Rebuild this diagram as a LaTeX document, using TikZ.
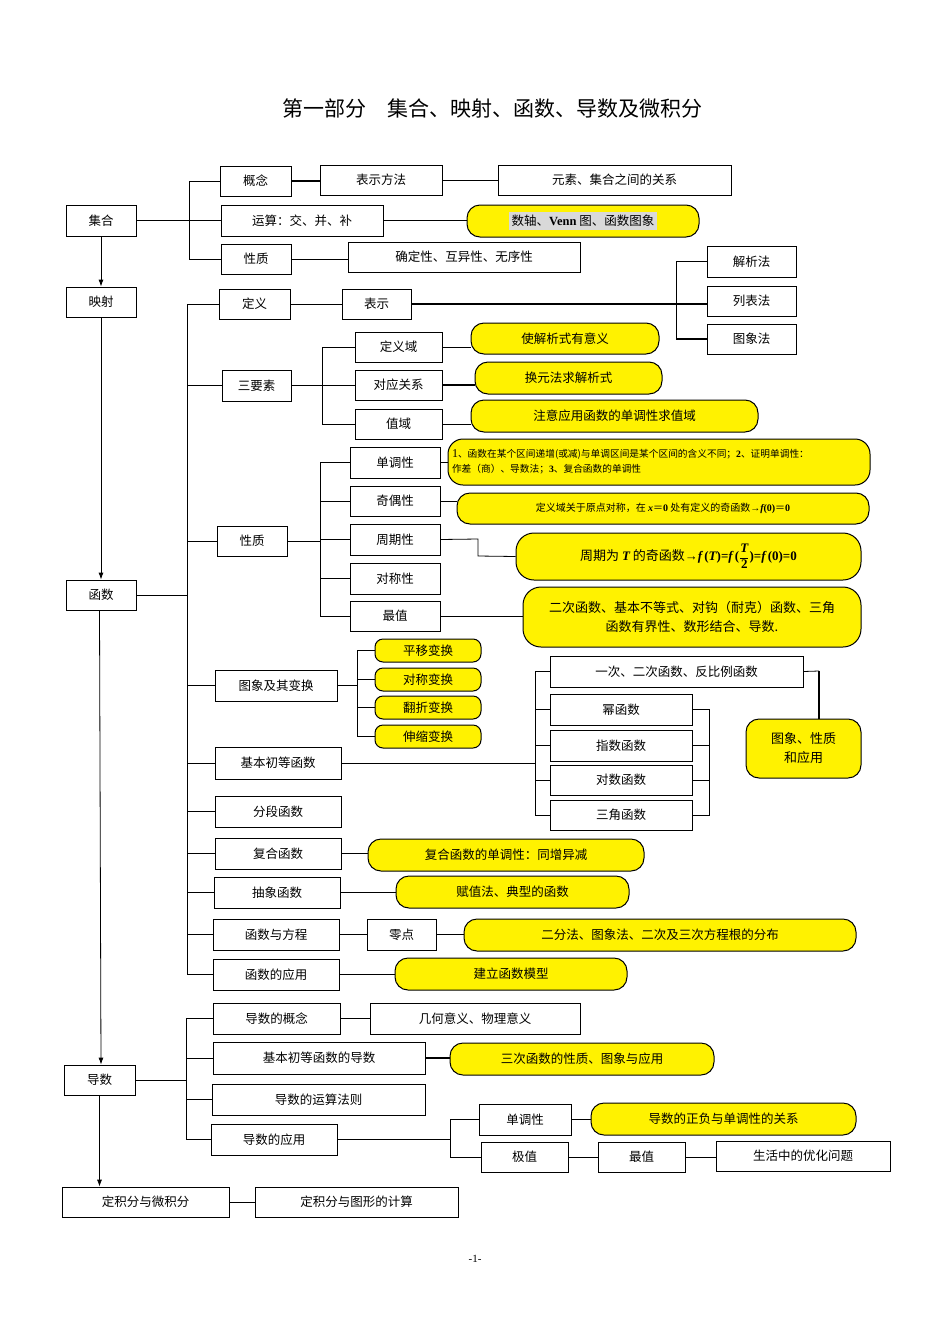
\documentclass[tikz,border=0pt]{standalone}
\usepackage{fontspec}
\setmainfont{Noto Sans CJK SC}
\newfontfamily\lsr{Liberation Serif}
\usetikzlibrary{arrows.meta,shadows}
\tikzset{
  bx/.style={draw, line width=0.8pt, fill=white, inner sep=0pt, font=\fontsize{12.5}{14}\selectfont,
     drop shadow={shadow xshift=1.2pt, shadow yshift=-1.2pt, fill=black!70, opacity=1}},
  yb/.style={draw, line width=1pt, fill=yellow, rounded corners=13pt, inner sep=0pt, font=\fontsize{12.5}{14}\selectfont},
  ys/.style={yb, rounded corners=8pt},
  ln/.style={line width=0.8pt},
  ar/.style={line width=0.8pt, -{Latex[length=7pt,width=5pt]}},
  hl/.style={to path={(\tikztostart) -- (\tikztostart -| \tikztotarget)}}
}
\newcommand{\B}[7]{\node[#1, minimum width={(#5-#3)*1pt}, minimum height={(#6-#4)*1pt}] (#2) at ({(#3+#5)/2},{(#4+#6)/2}) {#7};}
\begin{document}
\begin{tikzpicture}[x=1pt,y=-1pt]
\useasboundingbox (0,0) rectangle (950,1344);
\node[font=\fontsize{21}{24}\selectfont] (title) at (492,108) {第一部分\quad 集合、映射、函数、导数及微积分};
\node[font=\lsr\fontsize{11}{12}\selectfont] (page) at (475,1259) {-1-};
% main column
\B{bx}{jihe}{66}{205}{136}{236}{集合}
\B{bx}{yingshe}{66}{287}{136}{317}{映射}
\B{bx}{hanshu}{66}{580}{136}{610}{函数}
\B{bx}{daoshu}{64}{1065}{135}{1095}{导数}
\B{bx}{djf}{62}{1187}{229}{1217}{定积分与微积分}
\B{bx}{djf2}{255}{1187}{458}{1217}{定积分与图形的计算}
\draw[ar] (jihe) -- (yingshe);
\draw[ar] (yingshe) -- (hanshu);
\draw[ar] (hanshu.south -| daoshu) -- (daoshu.north -| hanshu);
\draw[ar] (daoshu) -- (djf.north -| daoshu);
\draw[ln] (djf) -- (djf2);
% set branch
\B{bx}{gn}{220}{166}{291}{196}{概念}
\B{bx}{bsff}{320}{165}{442}{195}{表示方法}
\B{bx}{ys}{498}{165}{731}{195}{元素、集合之间的关系}
\B{bx}{ys2}{221}{205}{383}{236}{运算：交、并、补}
\B{yb}{venn}{467}{205}{699}{237}{\colorbox{black!15}{数轴、{\lsr\bfseries Venn} 图、函数图象}}
\B{bx}{xz}{221}{244}{291}{274}{性质}
\B{bx}{qd}{348}{242}{580}{272}{确定性、互异性、无序性}
\coordinate (t1) at (189,220);
\draw[ln] (jihe.east) to[hl] (t1);
\draw[ln] (gn.west) -- (gn.west -| t1) -- (xz.west -| t1) -- (xz.west);
\draw[ln] (ys2.west) to[hl] (t1);
\draw[line width=2pt] (gn.east) to[hl] (bsff.west);
\draw[ln] (bsff.east) to[hl] (ys.west);
\draw[ln] (ys2.east) to[hl] (venn.west);
\draw[ln] (xz.east) to[hl] (qd.west);
% function branch
\coordinate (t2) at (187,595);
\B{bx}{dy}{219}{289}{290}{319}{定义}
\B{bx}{bs}{342}{289}{411}{319}{表示}
\B{bx}{jx}{707}{246}{796}{277}{解析法}
\B{bx}{lb}{707}{286}{796}{316}{列表法}
\B{bx}{tx}{707}{324}{796}{354}{图象法}
\draw[ln] (dy.east) to[hl] (bs.west);
\draw[line width=1.4pt] (bs.east) to[hl] (lb.west);
\draw[line width=1.4pt] (jx.west) -- ++(-30,0) |- (tx.west);
\B{bx}{sys}{222}{370}{291}{401}{三要素}
\B{bx}{dyy}{355}{332}{442}{362}{定义域}
\B{bx}{dygx}{355}{370}{442}{400}{对应关系}
\B{bx}{zy}{355}{409}{442}{439}{值域}
\B{yb}{y1}{471}{323}{659}{354}{使解析式有意义}
\B{yb}{y2}{475}{362}{662}{394}{换元法求解析式}
\B{yb}{y3}{471}{400}{758}{432}{注意应用函数的单调性求值域}
\draw[ln] (sys.east) to[hl] (dygx.west);
\draw[ln] (dyy.west) -- ++(-32,0) |- (zy.west);
\draw[ln] (dyy.east) to[hl] (y1.west);
\draw[line width=1.4pt] (dygx.east) to[hl] (y2.west);
\draw[ln] (zy.east) to[hl] (y3.west);
\B{bx}{xz2}{217}{526}{287}{556}{性质}
\B{bx}{dd}{350}{447}{440}{478}{单调性}
\B{bx}{jo}{350}{486}{440}{516}{奇偶性}
\B{bx}{zq}{350}{524}{440}{555}{周期性}
\B{bx}{dc}{350}{563}{440}{594}{对称性}
\B{bx}{zz}{350}{601}{440}{631}{最值}
\coordinate (t3) at (320,541);
\draw[ln] (xz2.east) to[hl] (t3);
\draw[ln] (dd.west) -- (dd.west -| t3) -- (zz.west -| t3) -- (zz.west);
\draw[ln] (jo.west) -- (jo.west -| t3);
\draw[ln] (zq.west) -- (zq.west -| t3);
\draw[ln] (dc.west) -- (dc.west -| t3);
\node[yb, rounded corners=15pt, minimum width=422pt, minimum height=46pt, align=left, font=\fontsize{9.7}{15}\selectfont, text width=414pt] (y4) at (659,462) {{\lsr\fontsize{12}{13}\selectfont 1}、函数在某个区间递增(或减)与单调区间是某个区间的含义不同；{\lsr\bfseries 2}、证明单调性：\\作差（商）、导数法；{\lsr\bfseries 3}、复合函数的单调性};
\B{yb}{y5}{457}{493}{869}{524}{\fontsize{10}{11}\selectfont 定义域关于原点对称，在 {\lsr\bfseries\itshape x}＝{\lsr\bfseries 0} 处有定义的奇函数{\lsr →\bfseries\itshape f}{\lsr\bfseries (0)}＝{\lsr\bfseries 0}}
\node[yb, rounded corners=18pt, minimum width=345pt, minimum height=47pt, font=\fontsize{13}{14}\selectfont] (y6) at (688.5,556.5) {周期为 {\lsr\bfseries\itshape T} 的奇函数{\lsr\bfseries →\itshape f\,\upshape(\itshape T\upshape)=\itshape f\,\upshape(}$\displaystyle\frac{\hbox{\lsr\bfseries\itshape T}}{\hbox{\lsr\bfseries 2}}${\lsr\bfseries)=\itshape f\,\upshape(0)=0}};
\node[yb, rounded corners=18pt, minimum width=338pt, minimum height=60pt, align=center, font=\fontsize{13}{19}\selectfont] (y7) at (692,617) {二次函数、基本不等式、对钩（耐克）函数、三角\\函数有界性、数形结合、导数.};
\draw[ln] (dd.east) to[hl] (y4.west);
\draw[ln] (jo.east) to[hl] (y5.west);
\draw[ln] (zq.east) -- (478,539) -- (478,556) -- (y6.west);
\draw[ln] (zz.east) to[hl] (y7.west);
% transforms
\B{bx}{tx2}{215}{670}{337}{701}{图象及其变换}
\B{ys}{py}{375}{639}{481}{662}{平移变换}
\B{ys}{dcb}{375}{668}{481}{691}{对称变换}
\B{ys}{fz}{375}{696}{481}{719}{翻折变换}
\B{ys}{sz}{375}{725}{481}{748}{伸缩变换}
\coordinate (t4) at (357,685);
\draw[ln] (tx2.east) to[hl] (t4);
\draw[ln] (py.west) -- (py.west -| t4) -- (sz.west -| t4) -- (sz.west);
\draw[ln] (dcb.west) -- (dcb.west -| t4);
\draw[ln] (fz.west) -- (fz.west -| t4);
% elementary functions
\B{bx}{jbcd}{215}{747}{341}{779}{基本初等函数}
\B{bx}{yc}{550}{656}{803}{687}{一次、二次函数、反比例函数}
\B{bx}{mh}{550}{694}{692}{725}{幂函数}
\B{bx}{zs}{550}{730}{692}{761}{指数函数}
\B{bx}{ds}{550}{765}{692}{795}{对数函数}
\B{bx}{sj}{550}{800}{692}{830}{三角函数}
\node[yb, rounded corners=13pt, minimum width=115pt, minimum height=59pt, align=center, font=\fontsize{13}{19}\selectfont] (txy) at (803.5,748.5) {图象、性质\\和应用};
\coordinate (t5) at (535,763);
\draw[ln] (jbcd.east) to[hl] (t5);
\draw[ln] (yc.west) -- (yc.west -| t5) -- (sj.west -| t5) -- (sj.west);
\draw[ln] (mh.west) -- (mh.west -| t5);
\draw[ln] (zs.west) -- (zs.west -| t5);
\draw[ln] (ds.west) -- (ds.west -| t5);
\coordinate (t6) at (709,763);
\draw[ln] (mh.east) -- (mh.east -| t6) -- (sj.east -| t6) -- (sj.east);
\draw[ln] (zs.east) -- (zs.east -| t6);
\draw[ln] (ds.east) -- (ds.east -| t6);
\coordinate (c819) at (819,671);
\draw[ln] (yc.east) -- (c819);
\draw[line width=1.4pt] (c819) -- (c819 |- txy.north);
% others
\B{bx}{fd}{215}{796}{341}{827}{分段函数}
\B{bx}{fh}{215}{838}{341}{869}{复合函数}
\B{yb}{fhy}{368}{839}{644}{871}{复合函数的单调性：同增异减}
\B{bx}{cx}{214}{877}{340}{908}{抽象函数}
\B{yb}{cxy}{396}{876}{629}{908}{赋值法、典型的函数}
\B{bx}{fy}{213}{919}{339}{950}{函数与方程}
\B{bx}{ld}{367}{919}{436}{950}{零点}
\B{yb}{ldy}{464}{919}{856}{951}{二分法、图象法、二次及三次方程根的分布}
\B{bx}{yy}{213}{959}{339}{990}{函数的应用}
\B{yb}{yyy}{395}{958}{627}{990}{建立函数模型}
\draw[ln] (fh.east) to[hl] (fhy.west);
\draw[ln] (cx.east) to[hl] (cxy.west);
\draw[ln] (fy.east) to[hl] (ld.west);
\draw[ln] (ld.east) to[hl] (ldy.west);
\draw[ln] (yy.east) to[hl] (yyy.west);
% function trunk
\draw[ln] (hanshu.east) to[hl] (t2);
\draw[ln] (dy.west) -- (dy.west -| t2) -- (yy.west -| t2) -- (yy.west);
\foreach \n in {sys,xz2,tx2,jbcd,fd,fh,cx,fy} \draw[ln] (\n.west) -- (\n.west -| t2);
% derivative branch
\coordinate (t7) at (186,1080);
\B{bx}{dgn}{213}{1003}{340}{1034}{导数的概念}
\B{bx}{jh}{370}{1003}{580}{1034}{几何意义、物理意义}
\B{bx}{jbd}{213}{1042}{425}{1074}{基本初等函数的导数}
\B{yb}{scy}{450}{1043}{714}{1075}{三次函数的性质、图象与应用}
\B{bx}{ysf}{212}{1084}{425}{1115}{导数的运算法则}
\B{bx}{dyy2}{211}{1124}{337}{1155}{导数的应用}
\B{bx}{ddx}{479}{1104}{571}{1135}{单调性}
\B{yb}{zfy}{591}{1103}{856}{1135}{导数的正负与单调性的关系}
\B{bx}{jz}{481}{1142}{568}{1172}{极值}
\B{bx}{zz2}{598}{1142}{685}{1172}{最值}
\B{bx}{sh}{716}{1141}{890}{1171}{生活中的优化问题}
\draw[ln] (daoshu.east) to[hl] (t7);
\draw[ln] (dgn.west) -- (dgn.west -| t7) -- (dyy2.west -| t7) -- (dyy2.west);
\draw[ln] (jbd.west) -- (jbd.west -| t7);
\draw[ln] (ysf.west) -- (ysf.west -| t7);
\draw[ln] (dgn.east) to[hl] (jh.west);
\draw[line width=1.4pt] (jbd.east) to[hl] (scy.west);
\coordinate (t8) at (450,1139);
\draw[ln] (dyy2.east) to[hl] (t8);
\draw[ln] (ddx.west) -- (ddx.west -| t8) -- (jz.west -| t8) -- (jz.west);
\draw[ln] (ddx.east) to[hl] (zfy.west);
\draw[ln] (jz.east) to[hl] (zz2.west);
\draw[ln] (zz2.east) to[hl] (sh.west);
\end{tikzpicture}
\end{document}
